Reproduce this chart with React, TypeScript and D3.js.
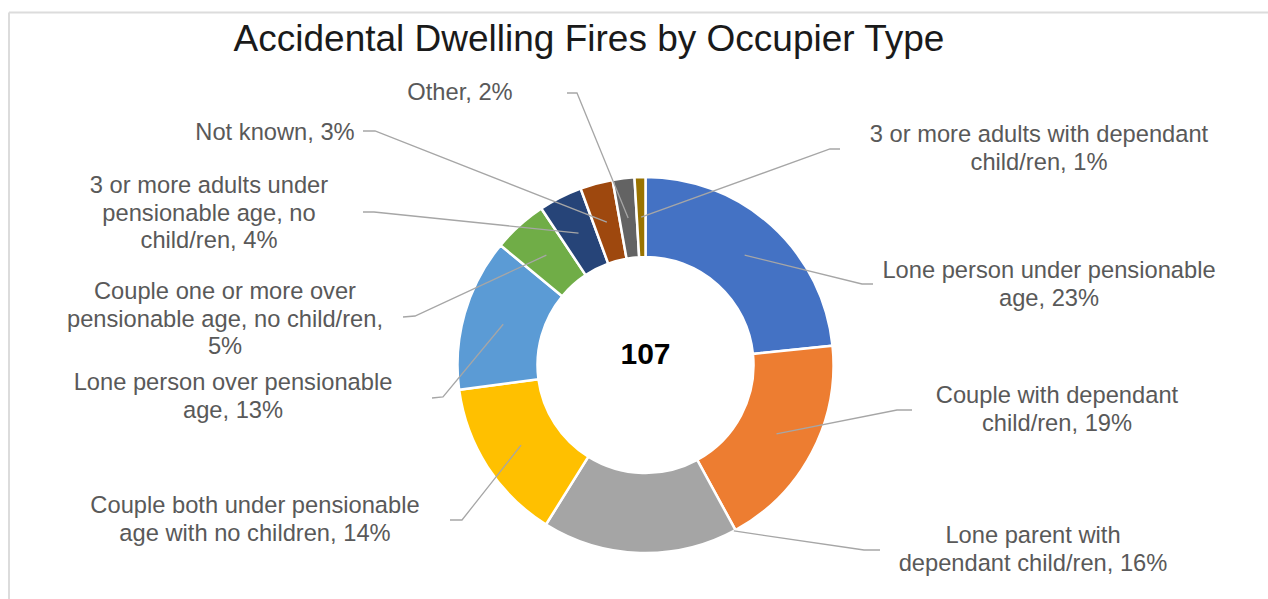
import React from "react";
import * as d3 from "d3";

const categories = [
  "Lone person under pensionable age",
  "Couple with dependant child/ren",
  "Lone parent with dependant child/ren",
  "Couple both under pensionable age with no children",
  "Lone person over pensionable age",
  "Couple one or more over pensionable age, no child/ren",
  "3 or more adults under pensionable age, no child/ren",
  "Not known",
  "Other",
  "3 or more adults with dependant child/ren",
];
const counts = [25, 20, 18, 15, 14, 5, 4, 3, 2, 1];
const percents = [23, 19, 16, 14, 13, 5, 4, 3, 2, 1];
const colors = [
  "#4472C4", "#ED7D31", "#A5A5A5", "#FFC000", "#5B9BD5",
  "#70AD47", "#264478", "#9E480E", "#636363", "#997300",
];
const total = 107;
const title = "Accidental Dwelling Fires by Occupier Type";

// label layout: wrapped lines, center x, first baseline, leader elbow and end
const labelLines = [
  ["Lone person under pensionable", "age, 23%"],
  ["Couple with dependant", "child/ren, 19%"],
  ["Lone parent with", "dependant child/ren, 16%"],
  ["Couple both under pensionable", "age with no children, 14%"],
  ["Lone person over pensionable", "age, 13%"],
  ["Couple one or more over", "pensionable age, no child/ren,", "5%"],
  ["3 or more adults under", "pensionable age, no", "child/ren, 4%"],
  ["Not known, 3%"],
  ["Other, 2%"],
  ["3 or more adults with dependant", "child/ren, 1%"],
];
const labelPos = [
  { x: 1049, y: 278, elbow: [862, 284], end: [873, 284], anchor: "mid" },
  { x: 1057, y: 403, elbow: [897, 410], end: [912, 410], anchor: "mid" },
  { x: 1033, y: 543, elbow: [864, 550], end: [880, 550], anchor: "edge" },
  { x: 255, y: 513, elbow: [462, 520], end: [450, 520], anchor: "mid" },
  { x: 233, y: 390, elbow: [443, 397], end: [432, 398], anchor: "mid" },
  { x: 225, y: 299, elbow: [415, 316], end: [403, 317], anchor: "mid" },
  { x: 209, y: 193, elbow: [374, 212], end: [363, 212], anchor: "mid" },
  { x: 275, y: 140, elbow: [375, 131], end: [363, 131], anchor: "mid" },
  { x: 460, y: 100, elbow: [577, 93], end: [567, 93], anchor: "mid" },
  { x: 1039, y: 142, elbow: [830, 149], end: [840, 149], anchor: "mid" },
];

const W = 1268;
const H = 599;
const cx = 645.5;
const cy = 365;
const rOuter = 188;
const rInner = 108;
const lineH = 27.5;
const font = "'Liberation Sans', Arial, Helvetica, sans-serif";

export default function App() {
  const pie = d3.pie<number>().value((d) => d).sort(null);
  const arcs = pie(counts);
  const arc = d3.arc<d3.PieArcDatum<number>>().innerRadius(rInner).outerRadius(rOuter);
  const rMid = (rInner + rOuter) / 2;

  const anchorPoint = (a: d3.PieArcDatum<number>, kind: string): [number, number] => {
    if (kind === "edge") {
      const ang = a.startAngle + 0.01;
      return [cx + rOuter * Math.sin(ang), cy - rOuter * Math.cos(ang)];
    }
    const ang = (a.startAngle + a.endAngle) / 2;
    return [cx + rMid * Math.sin(ang), cy - rMid * Math.cos(ang)];
  };

  return (
    <svg
      width={W}
      height={H}
      style={{ position: "absolute", left: 0, top: 0, background: "#fff" }}
    >
      <rect x={0} y={0} width={W} height={H} fill="#fff" />
      <line x1={9} y1={12.5} x2={W} y2={12.5} stroke="#dcdcdc" strokeWidth={2} />
      <line x1={9} y1={12.5} x2={9} y2={H} stroke="#dcdcdc" strokeWidth={2} />
      <text
        x={589}
        y={51}
        textAnchor="middle"
        fontFamily={font}
        fontSize={37}
        fill="#1a1a1a"
      >
        {title}
      </text>
      <g transform={`translate(${cx},${cy})`}>
        {arcs.map((a, i) => (
          <path
            key={categories[i]}
            d={arc(a) || ""}
            fill={colors[i]}
            stroke="#fff"
            strokeWidth={2.5}
            strokeLinejoin="miter"
          />
        ))}
      </g>
      {arcs.map((a, i) => {
        const p = labelPos[i];
        const s = anchorPoint(a, p.anchor);
        const pts = [s, p.elbow, p.end];
        return (
          <polyline
            key={"l" + i}
            points={pts.map((q) => q.join(",")).join(" ")}
            fill="none"
            stroke="#a6a6a6"
            strokeWidth={1.3}
          />
        );
      })}
      {labelLines.map((lines, i) => (
        <text
          key={"t" + i}
          textAnchor="middle"
          fontFamily={font}
          fontSize={23.7}
          fill="#595959"
        >
          {lines.map((ln, j) => (
            <tspan key={j} x={labelPos[i].x} y={labelPos[i].y + j * lineH}>
              {ln}
            </tspan>
          ))}
        </text>
      ))}
      <text
        x={cx}
        y={364}
        textAnchor="middle"
        fontFamily={font}
        fontSize={30}
        fontWeight="bold"
        fill="#000"
      >
        {total}
      </text>
    </svg>
  );
}
